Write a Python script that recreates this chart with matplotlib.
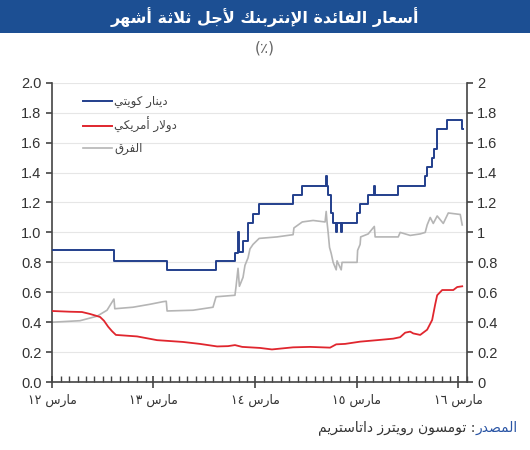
import re
import matplotlib
matplotlib.use("Agg")
import matplotlib.pyplot as plt
import matplotlib.dates as mdates
from matplotlib.patches import Rectangle
from matplotlib.lines import Line2D
from matplotlib.ticker import FuncFormatter, MultipleLocator
import pandas as pd

plt.rcParams['font.family'] = ['Liberation Sans', 'DejaVu Sans']

# ---- data ----
kwd_dates = ['2012-03-01', '2012-10-10', '2013-04-19', '2013-10-12', '2013-12-19', '2013-12-30',
             '2014-01-03', '2014-01-17', '2014-02-04', '2014-02-22', '2014-03-16', '2014-07-16',
             '2014-08-18', '2014-11-12', '2014-11-15', '2014-11-19', '2014-11-30', '2014-12-07',
             '2014-12-18', '2014-12-21', '2015-01-05', '2015-01-08', '2015-03-03', '2015-03-14',
             '2015-04-12', '2015-05-04', '2015-05-07', '2015-07-29', '2015-11-03', '2015-11-10',
             '2015-11-28', '2015-12-05', '2015-12-16', '2016-01-21', '2016-03-14', '2016-03-17']
kwd_vals = [0.88, 0.81, 0.75, 0.81, 0.86, 1.00, 0.87, 0.94, 1.06, 1.12, 1.19, 1.25,
            1.31, 1.38, 1.31, 1.25, 1.13, 1.06, 1.00, 1.06, 1.00, 1.06, 1.13, 1.19,
            1.25, 1.31, 1.25, 1.31, 1.38, 1.44, 1.50, 1.56, 1.69, 1.75, 1.69, 1.69]

usd_dates = ['2012-03-01', '2012-05-05', '2012-06-17', '2012-07-16', '2012-08-21', '2012-09-04',
             '2012-09-19', '2012-10-03', '2012-10-17', '2013-01-01', '2013-03-14', '2013-06-15',
             '2013-08-15', '2013-10-16', '2013-11-24', '2013-12-19', '2014-01-14', '2014-03-19',
             '2014-05-01', '2014-07-16', '2014-09-15', '2014-11-26', '2014-12-18', '2015-01-19',
             '2015-03-14', '2015-05-14', '2015-07-11', '2015-08-05', '2015-08-23', '2015-09-10',
             '2015-09-21', '2015-10-16', '2015-11-10', '2015-11-28', '2015-12-09', '2015-12-16',
             '2016-01-03', '2016-02-12', '2016-02-26', '2016-03-15']
usd_vals = [0.475, 0.47, 0.468, 0.455, 0.435, 0.41, 0.37, 0.34, 0.315, 0.305, 0.28, 0.268,
            0.255, 0.238, 0.24, 0.247, 0.235, 0.228, 0.218, 0.232, 0.235, 0.23, 0.252, 0.255,
            0.27, 0.28, 0.29, 0.30, 0.33, 0.337, 0.325, 0.315, 0.35, 0.415, 0.52, 0.58,
            0.615, 0.615, 0.635, 0.64]

spread_dates = ['2012-03-01', '2012-06-10', '2012-08-10', '2012-09-15', '2012-10-10', '2012-10-13',
                '2012-12-17', '2013-02-17', '2013-04-04', '2013-04-16', '2013-04-19', '2013-07-21',
                '2013-10-01', '2013-10-12', '2013-12-19', '2013-12-23', '2013-12-30', '2014-01-04',
                '2014-01-17', '2014-01-24', '2014-02-04', '2014-02-11', '2014-02-22', '2014-03-16',
                '2014-05-19', '2014-07-16', '2014-07-19', '2014-08-18', '2014-09-26', '2014-11-08',
                '2014-11-12', '2014-11-15', '2014-11-19', '2014-11-24', '2014-11-30', '2014-12-07',
                '2014-12-18', '2014-12-21', '2015-01-05', '2015-01-08', '2015-03-03', '2015-03-05',
                '2015-03-14', '2015-03-16', '2015-04-12', '2015-05-04', '2015-05-07', '2015-07-29',
                '2015-08-05', '2015-09-10', '2015-10-16', '2015-11-03', '2015-11-10', '2015-11-21',
                '2015-12-02', '2015-12-16', '2016-01-07', '2016-01-25', '2016-03-08', '2016-03-15']
spread_vals = [0.40, 0.41, 0.44, 0.48, 0.555, 0.49, 0.50, 0.52, 0.537, 0.54, 0.475, 0.48,
               0.50, 0.57, 0.58, 0.64, 0.76, 0.64, 0.70, 0.78, 0.83, 0.89, 0.92, 0.96,
               0.97, 0.985, 1.03, 1.07, 1.08, 1.07, 1.14, 1.07, 1.00, 0.90, 0.86, 0.80,
               0.75, 0.81, 0.75, 0.80, 0.80, 0.88, 0.92, 0.97, 0.99, 1.04, 0.97, 0.97,
               1.00, 0.98, 0.99, 1.00, 1.05, 1.10, 1.06, 1.11, 1.06, 1.13, 1.12, 1.05]

title_txt = 'أسعار الفائدة الإنتربنك لأجل ثلاثة أشهر'
unit_txt = '(٪)'
legend_labels = ['دينار كويتي', 'دولار أمريكي', 'الفرق']
source_head = 'المصدر'
source_rest = ': تومسون رويترز داتاستريم'
month_name = 'مارس'
arabic_digits = '٠١٢٣٤٥٦٧٨٩'

# ---- minimal arabic shaping (matplotlib does no shaping / bidi) ----
FORMS = {
    'ء': (0xFE80, 1), 'آ': (0xFE81, 2), 'أ': (0xFE83, 2), 'ؤ': (0xFE85, 2),
    'إ': (0xFE87, 2), 'ئ': (0xFE89, 4), 'ا': (0xFE8D, 2), 'ب': (0xFE8F, 4),
    'ة': (0xFE93, 2), 'ت': (0xFE95, 4), 'ث': (0xFE99, 4), 'ج': (0xFE9D, 4),
    'ح': (0xFEA1, 4), 'خ': (0xFEA5, 4), 'د': (0xFEA9, 2), 'ذ': (0xFEAB, 2),
    'ر': (0xFEAD, 2), 'ز': (0xFEAF, 2), 'س': (0xFEB1, 4), 'ش': (0xFEB5, 4),
    'ص': (0xFEB9, 4), 'ض': (0xFEBD, 4), 'ط': (0xFEC1, 4), 'ظ': (0xFEC5, 4),
    'ع': (0xFEC9, 4), 'غ': (0xFECD, 4), 'ف': (0xFED1, 4), 'ق': (0xFED5, 4),
    'ك': (0xFED9, 4), 'ل': (0xFEDD, 4), 'م': (0xFEE1, 4), 'ن': (0xFEE5, 4),
    'ه': (0xFEE9, 4), 'و': (0xFEED, 2), 'ى': (0xFEEF, 2), 'ي': (0xFEF1, 4),
}
LAM_ALEF = {'آ': 0xFEF5, 'أ': 0xFEF7, 'إ': 0xFEF9, 'ا': 0xFEFB}


def joins_next(tok):
    if isinstance(tok, tuple):
        return False
    return tok in FORMS and FORMS[tok][1] == 4


def joins_prev(tok):
    if isinstance(tok, tuple):
        return True
    return tok in FORMS and FORMS[tok][1] >= 2


def ar(text):
    toks = []
    i = 0
    while i < len(text):
        c = text[i]
        if c == 'ل' and i + 1 < len(text) and text[i + 1] in LAM_ALEF:
            toks.append(('LA', text[i + 1]))
            i += 2
        else:
            toks.append(c)
            i += 1
    out = []
    for k, tok in enumerate(toks):
        p = k > 0 and joins_next(toks[k - 1])
        if isinstance(tok, tuple):
            out.append(chr(LAM_ALEF[tok[1]] + (1 if p else 0)))
            continue
        if tok not in FORMS:
            out.append(tok)
            continue
        base, n = FORMS[tok]
        nx = k + 1 < len(toks) and joins_prev(toks[k + 1]) and n == 4
        if n == 1:
            form = 0
        elif n == 2:
            form = 1 if p else 0
        else:
            form = {(False, False): 0, (True, False): 1, (False, True): 2, (True, True): 3}[(p, nx)]
        out.append(chr(base + form))
    s = ''.join(out)
    runs = re.findall(r'[0-9٠-٩]+|[^0-9٠-٩]+', s)
    return ''.join(r if r[0] in '0123456789' + arabic_digits else r[::-1] for r in reversed(runs))


def year_label(v, pos=None):
    yy = mdates.num2date(v).year % 100
    digits = ''.join(arabic_digits[int(d)] for d in '%02d' % yy)
    return ar(month_name + ' ' + digits)


# ---- figure ----
blue = '#233f8c'
red = '#e0262e'
grey = '#b5b5b5'
axis_col = '#444444'

fig = plt.figure(figsize=(5.3, 4.5), dpi=100)
fig.patches.append(Rectangle((0, 0.927), 1, 0.073, transform=fig.transFigure,
                             facecolor='#1c4f93', edgecolor='none'))
fig.text(0.5, 0.962, ar(title_txt), color='white', fontsize=11.5, fontweight='bold',
         ha='center', va='center', family=['DejaVu Sans'])
fig.text(0.5, 0.893, unit_txt, color='#666666', fontsize=11, ha='center', va='center',
         family=['DejaVu Sans'])

ax = fig.add_axes([0.098, 0.151, 0.783, 0.665])
kd = pd.to_datetime(kwd_dates)
ud = pd.to_datetime(usd_dates)
sd = pd.to_datetime(spread_dates)
ax.plot(sd, spread_vals, color=grey, lw=1.2, zorder=2)
ax.plot(ud, usd_vals, color=red, lw=1.3, zorder=3)
ax.plot(kd, kwd_vals, color=blue, lw=1.4, drawstyle='steps-post', zorder=4)

ax.set_xlim(pd.Timestamp('2012-03-01'), pd.Timestamp('2016-04-01'))
ax.set_ylim(0, 2.0)
ax.yaxis.set_major_locator(MultipleLocator(0.2))
ax.yaxis.set_major_formatter(FuncFormatter(lambda v, p: '%.1f' % v))
ax.grid(axis='y', color='#e6e6e6', lw=0.8)
ax.set_axisbelow(True)

ax.xaxis.set_major_locator(mdates.MonthLocator(bymonth=3))
ax.xaxis.set_minor_locator(mdates.MonthLocator())
ax.xaxis.set_major_formatter(FuncFormatter(year_label))

for s in ['left', 'right', 'bottom']:
    ax.spines[s].set_color(axis_col)
    ax.spines[s].set_linewidth(1.2)
ax.spines['top'].set_visible(False)

ax.tick_params(axis='x', which='major', direction='inout', length=9, width=1.2,
               color=axis_col, labelsize=9, labelcolor='#333333', pad=4)
ax.tick_params(axis='x', which='minor', direction='in', length=4, width=1.0, color=axis_col)
ax.tick_params(axis='y', direction='out', length=4, width=1.2, color=axis_col,
               labelsize=10.5, labelcolor='#333333')
for lab in ax.get_xticklabels():
    lab.set_family(['DejaVu Sans'])

ax2 = ax.twinx()
ax2.set_ylim(0, 2.0)
ax2.yaxis.set_major_locator(MultipleLocator(0.2))
ax2.yaxis.set_major_formatter(FuncFormatter(lambda v, p: '%g' % round(v, 1)))
ax2.tick_params(axis='y', direction='out', length=4, width=1.2, color=axis_col,
                labelsize=10.5, labelcolor='#333333')
for s in ax2.spines.values():
    s.set_visible(False)

handles = [Line2D([], [], color=blue, lw=1.4),
           Line2D([], [], color=red, lw=1.4),
           Line2D([], [], color=grey, lw=1.2)]
leg = ax.legend(handles, [ar(t) for t in legend_labels], loc='upper left',
                bbox_to_anchor=(0.05, 0.995), frameon=False,
                handlelength=2.4, handletextpad=0.2, labelspacing=0.75,
                prop={'family': ['DejaVu Sans'], 'size': 8.5})
for t in leg.get_texts():
    t.set_color('#444444')

# source line: blue head on the right, rest to its left
head = fig.text(0.977, 0.05, ar(source_head), color='#2a55a5', fontsize=10,
                ha='right', va='center', family=['DejaVu Sans'])
fig.canvas.draw()
bb = head.get_window_extent(fig.canvas.get_renderer())
x_left = bb.x0 / fig.bbox.width
fig.text(x_left, 0.05, ar(source_rest), color='#333333', fontsize=10,
         ha='right', va='center', family=['DejaVu Sans'])

fig.savefig('out.png', dpi=100)
